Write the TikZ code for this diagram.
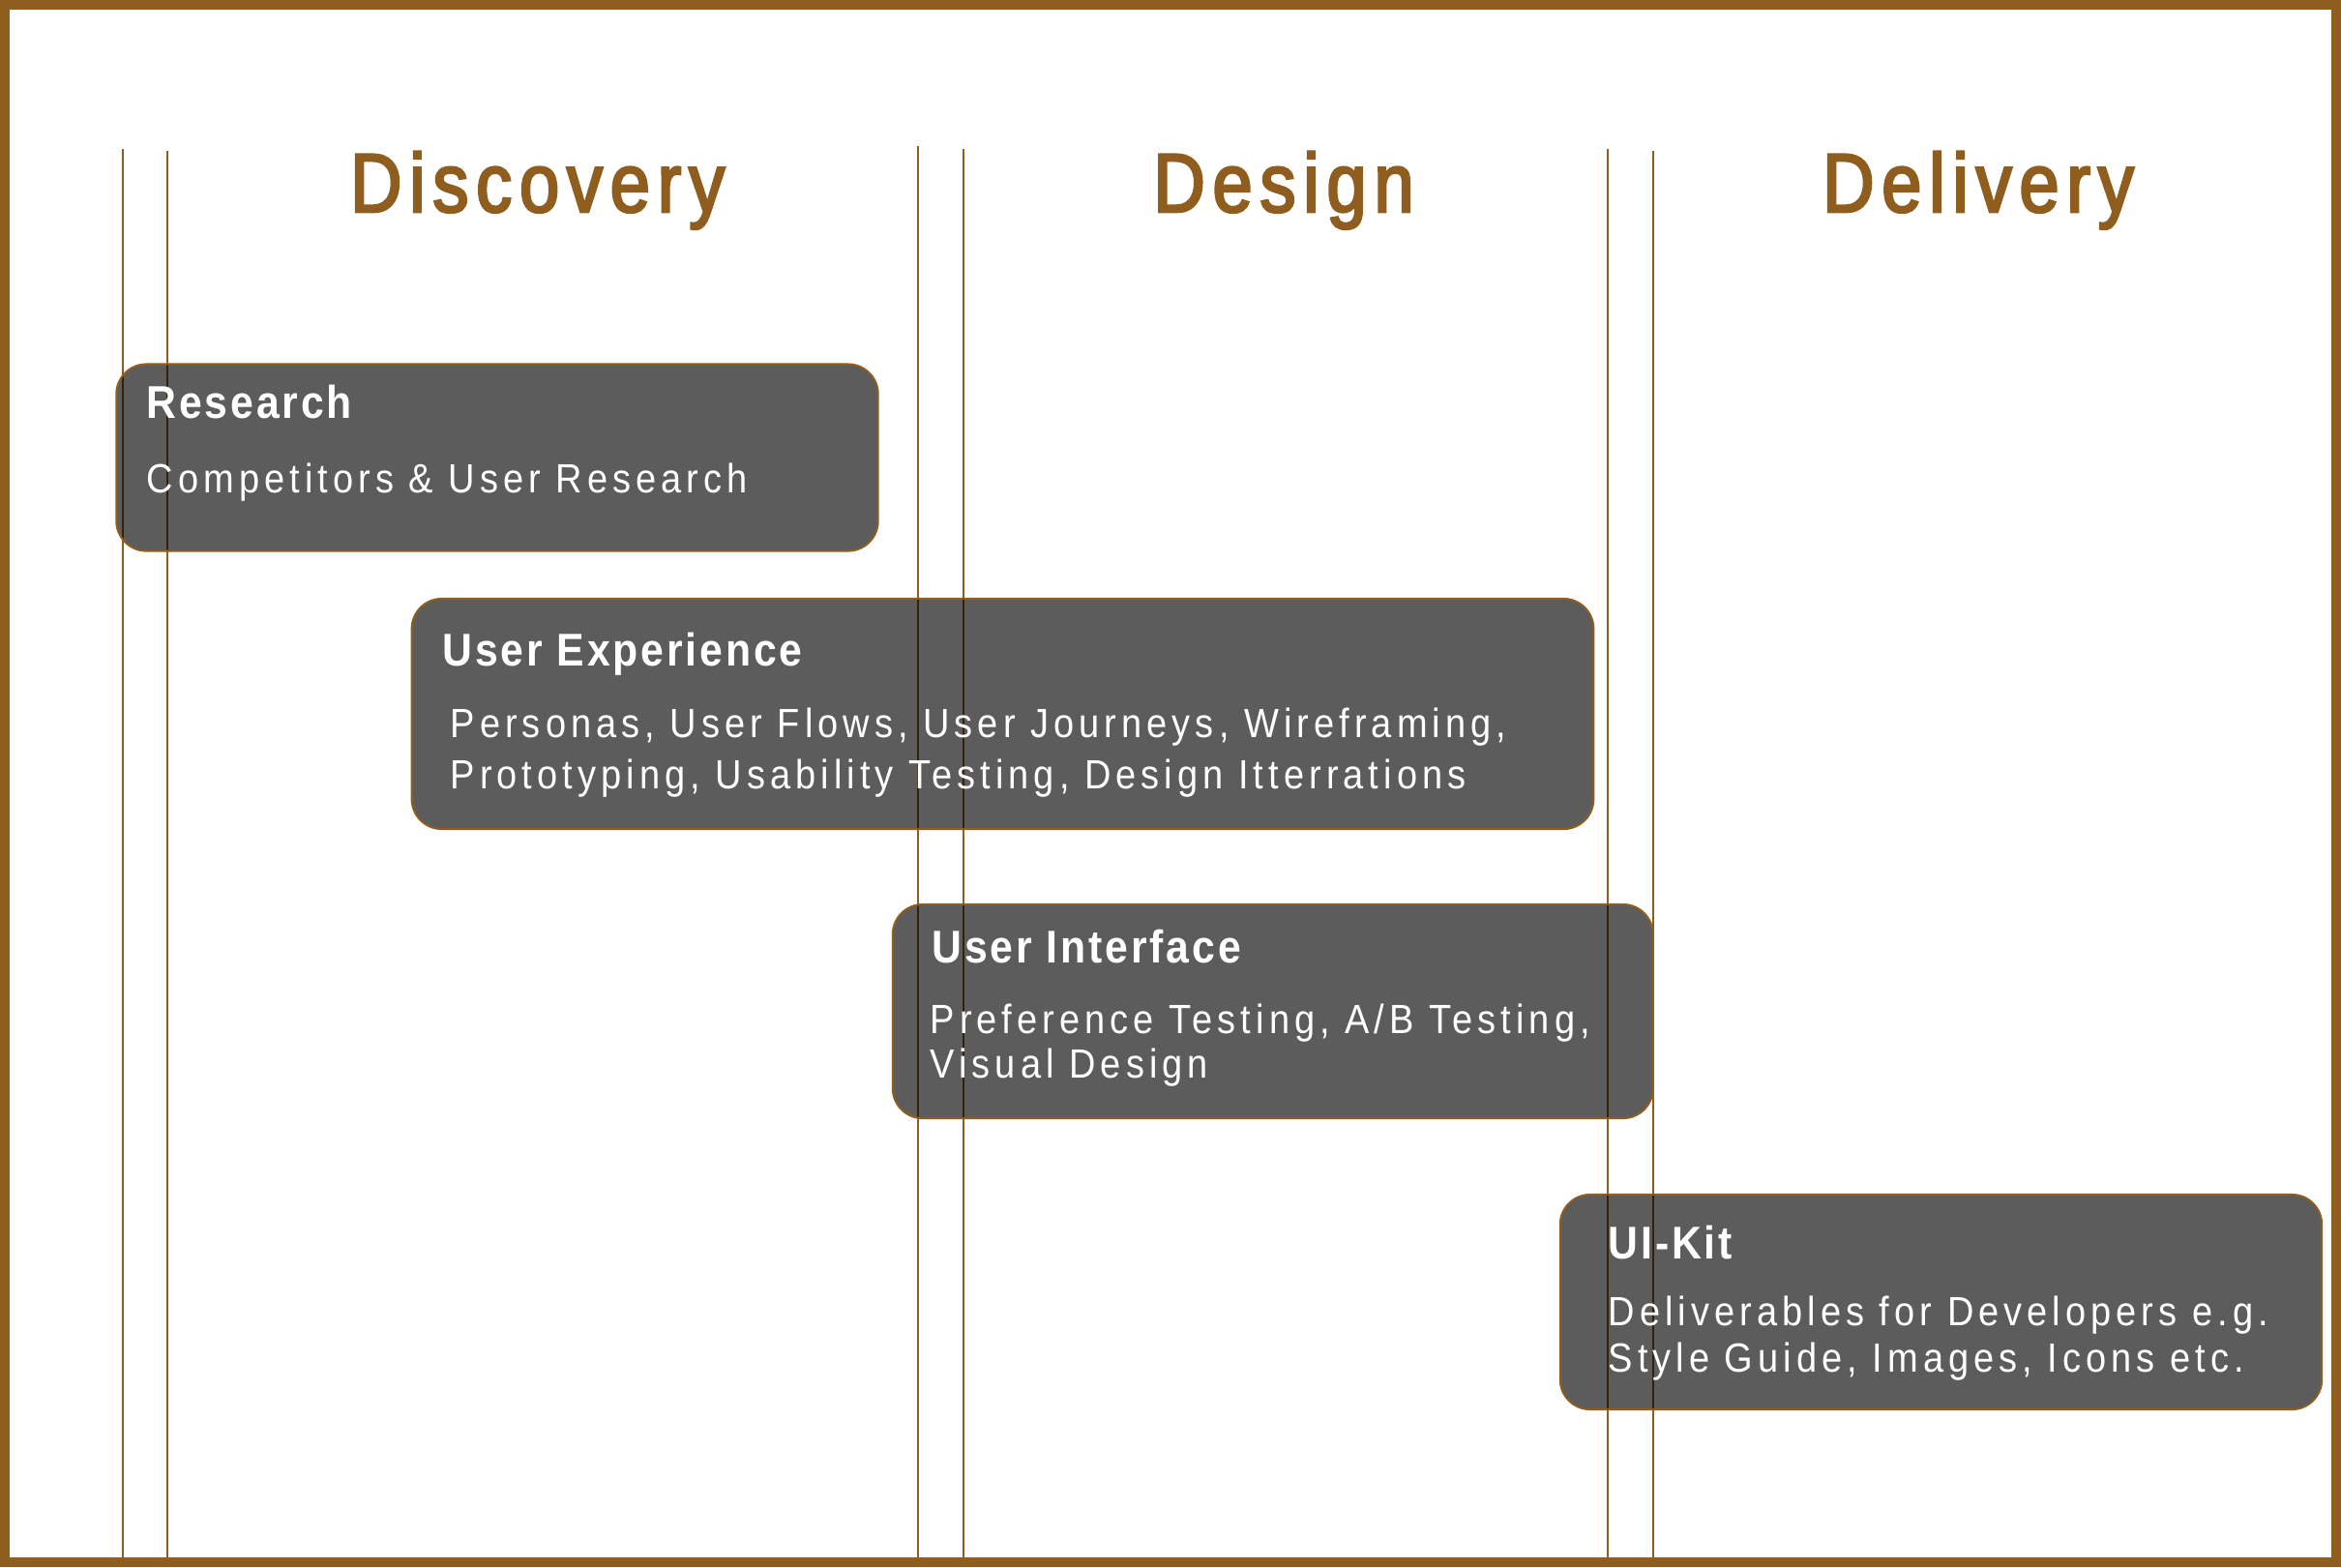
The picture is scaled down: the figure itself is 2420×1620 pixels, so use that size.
\documentclass[tikz,border=0pt]{standalone}
\usepackage{fontspec}
\setmainfont{Liberation Sans}
\newfontfamily\phasefont[FakeStretch=0.86,LetterSpace=9,FakeBold=3]{Liberation Sans}
\newfontfamily\headfont[FakeStretch=0.9,LetterSpace=6]{Liberation Sans}
\newfontfamily\bodyfont[FakeStretch=0.9,LetterSpace=12]{Liberation Sans}
\definecolor{bronze}{HTML}{8F5E1E}
\begin{document}
\begin{tikzpicture}[x=0.01cm,y=-0.01cm,
  frame/.style={draw=bronze,line width=0.1cm},
  guide/.style={draw=bronze,line width=0.02cm},
  phase/.style={anchor=base,inner sep=0,text=bronze,font=\phasefont\fontsize{24.5}{28}\selectfont},
  card/.style={rectangle,rounded corners=0.31cm,draw=bronze,line width=0.02cm,fill=black,fill opacity=0.64,text opacity=1,inner sep=0},
  cardtitle/.style={anchor=base west,inner sep=0,text=white,font=\headfont\bfseries\fontsize{13.5}{16}\selectfont},
  cardtext/.style={anchor=base west,inner sep=0,text=white,font=\bodyfont\fontsize{12}{14}\selectfont}]
\useasboundingbox (0,0) rectangle (2420,1620);
\fill[white] (0,0) rectangle (2420,1620);
\draw[frame] (5,5) rectangle (2415,1615);
% guide lines
\foreach \n/\x/\t in {a/126.6/154,b/172.9/156,c/949.2/151,d/995.5/154,e/1662.2/154,f/1708.5/156}{
  \coordinate (\n top) at (\x,\t);
  \coordinate (\n bot) at (\x,1610);
  \draw[guide] (\n top) -- (\n bot);
}
% phases
\node[phase] (discovery) at (555.6,219) {Discovery};
\node[phase] (design) at (1327,219) {Design};
\node[phase] (delivery) at (2045,219) {Delivery};
% cards
\node[card,minimum width=7.87cm,minimum height=1.93cm] (research) at (514,473) {};
\node[card,minimum width=12.21cm,minimum height=2.38cm] (ux) at (1036.5,738) {};
\node[card,minimum width=7.855cm,minimum height=2.21cm] (ui) at (1315.8,1045.5) {};
\node[card,minimum width=7.87cm,minimum height=2.22cm] (kit) at (2006.5,1346) {};
% texts
\node[cardtitle] (researcht) at (151,432) {Research};
\node[cardtext] (researchb) at (151,509) {Competitors \& User Research};
\node[cardtitle] (uxt) at (457,688) {User Experience};
\node[cardtext] (uxb1) at (465,762) {Personas, User Flows, User Journeys, Wireframing,};
\node[cardtext] (uxb2) at (465,815) {Prototyping, Usability Testing, Design Itterrations};
\node[cardtitle] (uit) at (963,995) {User Interface};
\node[cardtext] (uib1) at (961,1068) {Preference Testing, A/B Testing,};
\node[cardtext] (uib2) at (961,1114) {Visual Design};
\node[cardtitle] (kitt) at (1662,1301) {UI-Kit};
\node[cardtext] (kitb1) at (1662,1370) {Deliverables for Developers e.g.};
\node[cardtext] (kitb2) at (1662,1418) {Style Guide, Images, Icons etc.};
\end{tikzpicture}
\end{document}
